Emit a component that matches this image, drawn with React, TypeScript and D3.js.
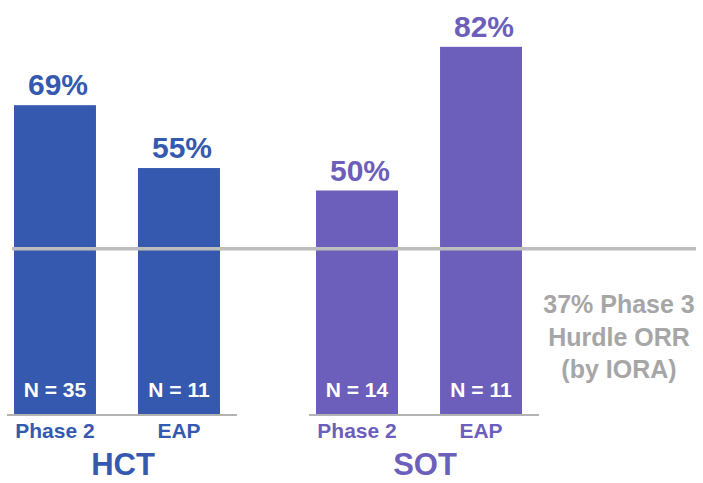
import React from "react";
import * as d3 from "d3";

const groups = ["HCT", "SOT"];
const phases = ["Phase 2", "EAP"];
const orrValues = [
  [69, 55],
  [50, 82],
];
const sampleSizes = [
  [35, 11],
  [14, 11],
];
const hurdleValue = 37;
const hurdleLines = ["37% Phase 3", "Hurdle ORR", "(by IORA)"];
const groupColors = ["#3459ae", "#6c5ebb"];

const W = 703;
const H = 483;
const FONT = "'Liberation Sans', Arial, Helvetica, sans-serif";

export default function App() {
  const baseY = 415;
  const y = d3.scaleLinear().domain([0, 100]).range([baseY, baseY - 449]);

  const xGroup = d3
    .scaleBand<string>()
    .domain(groups)
    .range([14, 522])
    .paddingInner(0.318)
    .paddingOuter(0);

  const xPhase = d3
    .scaleBand<string>()
    .domain(phases)
    .range([0, xGroup.bandwidth()])
    .paddingInner(0.339)
    .paddingOuter(0);

  const hurdleY = y(hurdleValue);

  return (
    <svg
      width={W}
      height={H}
      viewBox={`0 0 ${W} ${H}`}
      style={{ position: "absolute", left: 0, top: 0, background: "#fff" }}
      fontFamily={FONT}
      fontWeight="bold"
    >
      {groups.map((g, gi) => {
        const gx = xGroup(g) ?? 0;
        const color = groupColors[gi];
        return (
          <g key={g}>
            {phases.map((p, pi) => {
              const v = orrValues[gi][pi];
              const bx = gx + (xPhase(p) ?? 0);
              const bw = xPhase.bandwidth();
              const cx = bx + bw / 2;
              return (
                <g key={p}>
                  <rect x={bx} y={y(v)} width={bw} height={baseY - y(v)} fill={color} />
                  <text
                    x={cx + 3}
                    y={y(v) - 10}
                    textAnchor="middle"
                    fontSize={30}
                    fill={color}
                  >
                    {`${v}%`}
                  </text>
                  <text
                    x={cx}
                    y={baseY - 18.5}
                    textAnchor="middle"
                    fontSize={21}
                    fill="#ffffff"
                  >
                    {`N = ${sampleSizes[gi][pi]}`}
                  </text>
                  <text
                    x={cx}
                    y={438}
                    textAnchor="middle"
                    fontSize={21}
                    fill={color}
                  >
                    {p}
                  </text>
                </g>
              );
            })}
            <line
              x1={gx - 7}
              x2={gx + xGroup.bandwidth() + 17}
              y1={baseY}
              y2={baseY}
              stroke="#b3b3b3"
              strokeWidth={2}
            />
            <text
              x={gx + xGroup.bandwidth() / 2 + 6}
              y={475}
              textAnchor="middle"
              fontSize={31}
              fill={color}
            >
              {g}
            </text>
          </g>
        );
      })}

      <line x1={12} x2={696} y1={hurdleY} y2={hurdleY} stroke="#bdbdbd" strokeWidth={3.5} />
      {hurdleLines.map((t, i) => (
        <text
          key={t}
          x={619}
          y={313 + i * 32.5}
          textAnchor="middle"
          fontSize={25}
          fill="#a6a6a6"
        >
          {t}
        </text>
      ))}
    </svg>
  );
}
